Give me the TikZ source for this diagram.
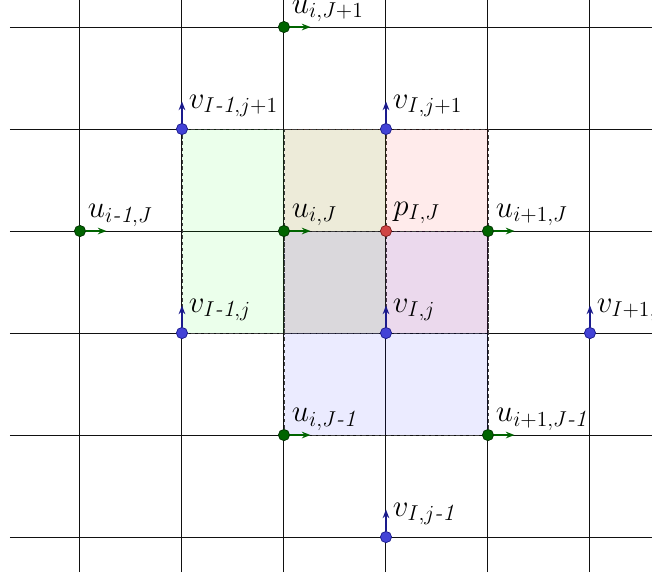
\documentclass[tikz,border=0pt]{standalone}
\usepackage{amsmath}
\usepackage{tikz}
\usetikzlibrary{arrows.meta, positioning, calc}
\usepackage{xcolor}
\DeclareMathSizes{17}{17}{13}{10}
\definecolor{ugreen}{HTML}{006400}
\definecolor{ugreendark}{HTML}{003300}
\definecolor{vblue}{HTML}{4343D6}
\definecolor{vbluedark}{HTML}{1A1A8C}
\definecolor{pred}{HTML}{D04545}
\definecolor{preddark}{HTML}{7A1A1A}
\definecolor{gridgrey}{HTML}{111111}
\tikzset{
  gridline/.style={draw=gridgrey, line width=0.55pt},
  cellbox/.style={dashed, dash pattern=on 2pt off 1.5pt, draw=black!75,
                  line width=0.5pt, fill opacity=0.08},
  udot/.style={circle, draw=ugreendark, fill=ugreen, line width=0.4pt,
               minimum size=0.22cm, inner sep=0},
  vdot/.style={circle, draw=vbluedark, fill=vblue, line width=0.4pt,
               minimum size=0.22cm, inner sep=0},
  pdot/.style={circle, draw=preddark, fill=pred, line width=0.4pt,
               minimum size=0.22cm, inner sep=0},
  uvec/.style={-{Stealth[length=1.7mm,width=1.3mm]}, draw=ugreen, line width=0.9pt},
  vvec/.style={-{Stealth[length=1.7mm,width=1.3mm]}, draw=vbluedark, line width=0.9pt},
  ptlab/.style={anchor=base west, inner sep=0, font=\fontsize{17}{20}\selectfont},
}

\begin{document}
\begin{tikzpicture}[x=2cm, y=2cm]
  \useasboundingbox (-0.784,-0.392) rectangle (5.608,5.265);
  \clip (-0.784,-0.392) rectangle (5.608,5.265);

  % staggered grid
  \foreach \r in {0,...,5}{\draw[gridline] (-0.686,\r) -- (5.7,\r);}
  \foreach \c in {0,...,5}{\draw[gridline] (\c,-0.343) -- (\c,5.4);}

  % control volumes (u, p, v)
  \draw[cellbox, fill=green] (1,2) rectangle (3,4);
  \draw[cellbox, fill=red] (2,2) rectangle (4,4);
  \draw[cellbox, fill=blue] (2,1) rectangle (4,3);

  % u velocities
  \foreach \nm/\x/\y/\txt in {uiJp/2/5/{u_{i,J+1}}, uimJ/0/3/{u_{i\textit{-1},J}},
                              uiJ/2/3/{u_{i,J}}, uipJ/4/3/{u_{i+1,J}},
                              uiJm/2/1/{u_{i,J\textit{-1}}}, uipJm/4/1/{u_{i+1,J\textit{-1}}}}{
    \node[udot] (\nm) at (\x,\y) {};
    \coordinate (\nm-tip) at ([xshift=0.52cm]\nm.center);
    \draw[uvec] (\nm) -- (\nm-tip);
    \node[ptlab] (\nm-lab) at ([xshift=0.15cm,yshift=0.27cm]\nm.center) {$\txt$};
  }

  % v velocities
  \foreach \nm/\x/\y/\txt in {vImjp/1/4/{v_{I\textit{-1},j+1}}, vIjp/3/4/{v_{I,j+1}},
                              vImj/1/2/{v_{I\textit{-1},j}}, vIj/3/2/{v_{I,j}},
                              vIpj/5/2/{v_{I+1,j}}, vIjm/3/0/{v_{I,j\textit{-1}}}}{
    \node[vdot] (\nm) at (\x,\y) {};
    \coordinate (\nm-tip) at ([yshift=0.54cm]\nm.center);
    \draw[vvec] (\nm) -- (\nm-tip);
    \node[ptlab] (\nm-lab) at ([xshift=0.13cm,yshift=0.41cm]\nm.center) {$\txt$};
  }

  % pressure
  \node[pdot] (pIJ) at (3,3) {};
  \node[ptlab] (pIJ-lab) at ([xshift=0.14cm,yshift=0.31cm]pIJ.center) {$p_{I,J}$};

\end{tikzpicture}
\end{document}
